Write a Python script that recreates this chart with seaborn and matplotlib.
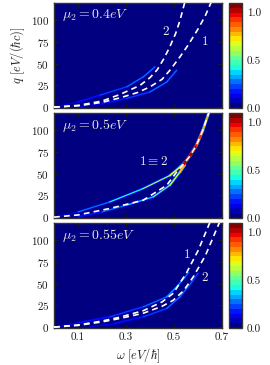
import numpy as np
import matplotlib
matplotlib.use("Agg")
import matplotlib.pyplot as plt
import seaborn as sns
from matplotlib.collections import LineCollection
from matplotlib.colors import BoundaryNorm, ListedColormap
from matplotlib.cm import ScalarMappable

# ---------------- data ----------------
mu_labels = [r"$\mu_2 = 0.4eV$", r"$\mu_2 = 0.5eV$", r"$\mu_2 = 0.55eV$"]

x_ticks = [0.1, 0.3, 0.5, 0.7]
y_ticks = [0, 25, 50, 75, 100]
cbar_ticks = [0.0, 0.5, 1.0]

# panel 1 (mu2 = 0.4 eV): dashed dispersion curves
p1_c1_w = [0.0, 0.1, 0.2, 0.275, 0.35, 0.4, 0.45, 0.483, 0.525, 0.56, 0.6, 0.63, 0.655]
p1_c1_q = [0.0, 1.5, 5.5, 10.7, 17.0, 23.4, 32.0, 42.5, 58.0, 72.0, 90.0, 105.0, 121.0]
p1_c2_w = [0.0, 0.1, 0.2, 0.275, 0.358, 0.4, 0.43, 0.456, 0.48, 0.507, 0.525, 0.545]
p1_c2_q = [0.0, 2.0, 7.0, 14.6, 25.0, 34.0, 43.0, 55.0, 68.0, 85.0, 100.0, 121.0]
# panel 1 bright loss bands
p1_b1_w = [0.02, 0.1, 0.192, 0.303, 0.372, 0.421]
p1_b1_q = [0.8, 6.0, 13.8, 23.4, 34.9, 46.4]
p1_b1_a = [0.1, 0.15, 0.22, 0.27, 0.28, 0.22]
p1_b2_w = [0.1, 0.2, 0.303, 0.4, 0.47, 0.511]
p1_b2_q = [0.5, 4.0, 10.0, 17.6, 29.0, 42.5]
p1_b2_a = [0.1, 0.16, 0.22, 0.27, 0.28, 0.22]

# panel 2 (mu2 = 0.5 eV)
p2_c_w = [0.0, 0.1, 0.233, 0.372, 0.47, 0.511, 0.54, 0.565, 0.594, 0.62, 0.646]
p2_c_q = [0.0, 2.5, 10.0, 19.5, 36.8, 52.0, 61.0, 70.0, 83.0, 100.0, 121.0]
p2_b1_w = [0.02, 0.1, 0.233, 0.372, 0.483, 0.525, 0.545]
p2_b1_q = [0.8, 6.0, 17.6, 33.0, 48.0, 57.8, 63.0]
p2_b1_a = [0.1, 0.18, 0.32, 0.48, 0.62, 0.75, 0.85]
p2_b2_w = [0.1, 0.2, 0.303, 0.414, 0.483, 0.525, 0.545]
p2_b2_q = [0.5, 6.0, 13.8, 23.4, 36.8, 52.0, 60.0]
p2_b2_a = [0.12, 0.22, 0.33, 0.45, 0.58, 0.72, 0.85]
p2_b3_w = [0.54, 0.565, 0.594, 0.62, 0.646]
p2_b3_q = [61.0, 70.0, 83.0, 100.0, 121.0]
p2_b3_a = [1.0, 1.05, 1.0, 0.85, 0.7]

# panel 3 (mu2 = 0.55 eV)
p3_c1_w = [0.0, 0.1, 0.2, 0.275, 0.372, 0.45, 0.497, 0.553, 0.6, 0.65]
p3_c1_q = [0.0, 2.5, 7.0, 11.5, 19.0, 29.0, 39.0, 63.0, 88.0, 121.0]
p3_c2_w = [0.0, 0.1, 0.2, 0.275, 0.372, 0.45, 0.497, 0.54, 0.58, 0.63, 0.69]
p3_c2_q = [0.0, 2.0, 6.0, 10.0, 16.0, 24.0, 31.0, 42.0, 57.8, 82.0, 121.0]
p3_b1_w = [0.02, 0.1, 0.233, 0.372, 0.47, 0.511, 0.546, 0.56]
p3_b1_q = [0.8, 5.0, 11.9, 23.4, 34.9, 46.4, 57.8, 63.0]
p3_b1_a = [0.1, 0.15, 0.22, 0.27, 0.3, 0.32, 0.28, 0.22]
p3_b2_w = [0.15, 0.25, 0.372, 0.47, 0.525, 0.58, 0.6]
p3_b2_q = [0.5, 4.0, 11.9, 21.5, 34.9, 54.0, 62.0]
p3_b2_a = [0.1, 0.15, 0.22, 0.27, 0.3, 0.27, 0.22]

# curve labels: (text, omega, q)
p1_labels = [("2", 0.465, 86.6), ("1", 0.628, 75.0)]
p2_labels = [(r"$1\equiv2$", 0.417, 63.6)]
p3_labels = [("1", 0.554, 83.0), ("2", 0.628, 57.0)]

# ---------------- style ----------------
sns.set_style("ticks")
plt.rcParams.update({
    "font.family": "serif",
    "font.serif": ["cmr10", "DejaVu Serif"],
    "mathtext.fontset": "cm",
    "axes.formatter.use_mathtext": True,
    "axes.unicode_minus": False,
    "xtick.direction": "in",
    "ytick.direction": "in",
    "xtick.top": True,
    "ytick.right": True,
    "xtick.major.size": 3,
    "ytick.major.size": 3,
    "axes.edgecolor": "0.2",
    "axes.linewidth": 1.0,
})

levels = np.linspace(0, 1.1, 23)
base = plt.get_cmap("jet")
cmap = ListedColormap(base(np.linspace(0, 1, len(levels) - 1)))
norm = BoundaryNorm(levels, cmap.N)
bg = cmap(0)

fig = plt.figure(figsize=(2.7, 3.65), dpi=100)

W, H = 168 / 270, 105 / 365
L = 54 / 270
bottoms = [1 - 108 / 365, 1 - 218 / 365, 1 - 328 / 365]
cb_left, cb_w = 229 / 270, 13 / 270

panels = [
    dict(curves=[(p1_c1_w, p1_c1_q), (p1_c2_w, p1_c2_q)],
         bands=[(p1_b1_w, p1_b1_q, p1_b1_a), (p1_b2_w, p1_b2_q, p1_b2_a)],
         labels=p1_labels),
    dict(curves=[(p2_c_w, p2_c_q)],
         bands=[(p2_b1_w, p2_b1_q, p2_b1_a), (p2_b2_w, p2_b2_q, p2_b2_a),
                (p2_b3_w, p2_b3_q, p2_b3_a)],
         labels=p2_labels),
    dict(curves=[(p3_c1_w, p3_c1_q), (p3_c2_w, p3_c2_q)],
         bands=[(p3_b1_w, p3_b1_q, p3_b1_a), (p3_b2_w, p3_b2_q, p3_b2_a)],
         labels=p3_labels),
]

for i, (pan, b) in enumerate(zip(panels, bottoms)):
    ax = fig.add_axes([L, b, W, H])
    ax.set_facecolor(bg)
    ax.set_xlim(0, 0.7)
    ax.set_ylim(-1, 120)

    for bw, bq, ba in pan["bands"]:
        pts = np.column_stack([bw, bq])
        segs = np.stack([pts[:-1], pts[1:]], axis=1)
        amp = 0.5 * (np.asarray(ba[:-1]) + np.asarray(ba[1:]))
        halo = LineCollection(segs, colors=[cmap(norm(a * 0.35)) for a in amp],
                              linewidths=2.2, capstyle="round", zorder=2)
        core = LineCollection(segs, colors=[cmap(norm(a)) for a in amp],
                              linewidths=[0.9 + 3.0 * max(0.0, a - 0.6) for a in amp],
                              capstyle="round", zorder=3)
        ax.add_collection(halo)
        ax.add_collection(core)

    for cw, cq in pan["curves"]:
        sns.lineplot(x=cw, y=cq, ax=ax, color="white", lw=1.2,
                     linestyle=(0, (3.5, 2.5)), sort=False, estimator=None,
                     zorder=4)

    for t, xw, yq in pan["labels"]:
        ax.text(xw, yq, t, color="#e8e8e8", fontsize=9.5, ha="center",
                va="center", zorder=5)

    ax.text(0.05, 0.96, mu_labels[i], transform=ax.transAxes, color="#e8e8e8",
            fontsize=10, ha="left", va="top", zorder=5)

    ax.set_xticks(x_ticks)
    ax.set_yticks(y_ticks)
    ax.tick_params(labelsize=8, colors="0.1", length=3)
    if i < 2:
        ax.set_xticklabels([])
    else:
        ax.set_xticklabels([f"{v:.1f}" for v in x_ticks])
        ax.set_xlabel(r"$\omega\ [eV/\hbar]$", fontsize=9, labelpad=3)
    if i == 0:
        ax.set_ylabel(r"$q\ [eV/(\hbar c)]$", fontsize=9, labelpad=3)
    for s in ax.spines.values():
        s.set_visible(True)

    cax = fig.add_axes([cb_left, b, cb_w, H])
    cb = fig.colorbar(ScalarMappable(norm=norm, cmap=cmap), cax=cax,
                      ticks=cbar_ticks, boundaries=levels)
    cb.ax.set_yticklabels([f"{v:.1f}" for v in cbar_ticks])
    cb.ax.tick_params(labelsize=8, direction="in", length=3, colors="0.1")
    cb.outline.set_edgecolor("0.2")

fig.savefig("out.png", dpi=100)
